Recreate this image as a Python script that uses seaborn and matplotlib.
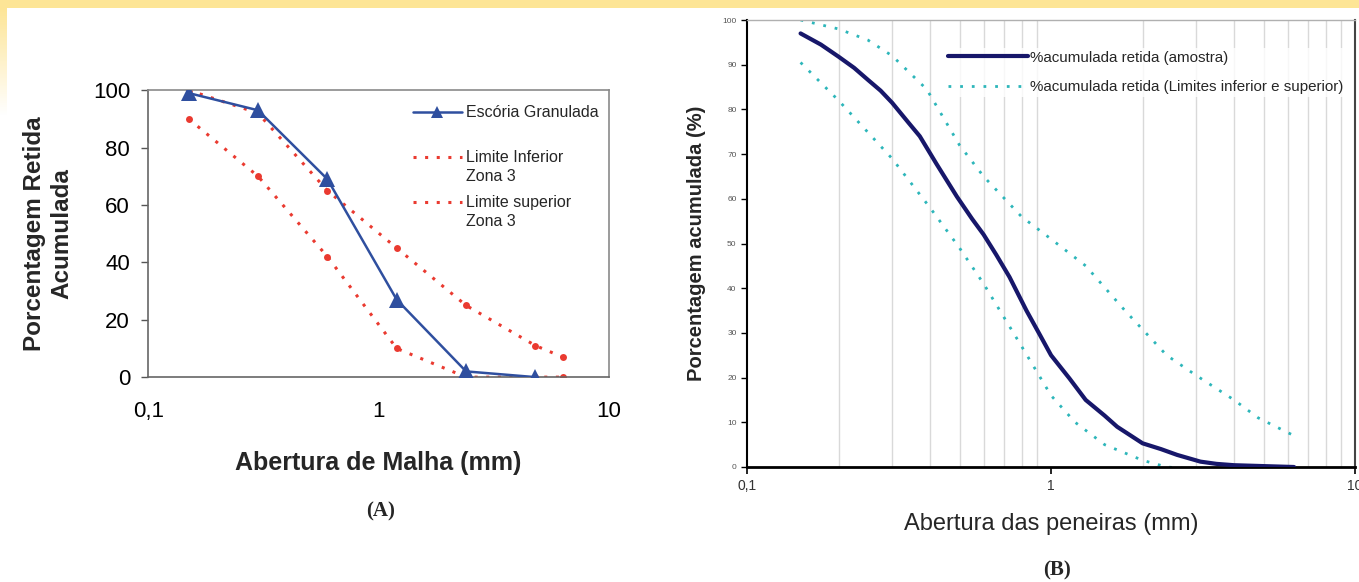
import numpy as np
import pandas as pd
import matplotlib.pyplot as plt
import seaborn as sns
from matplotlib.lines import Line2D
from matplotlib.patches import Rectangle
from matplotlib.ticker import FixedLocator, NullFormatter

# ---------------- data, panel A (NBR zona 3) ----------------
sieves_a = [0.15, 0.3, 0.6, 1.2, 2.4, 4.8]
escoria = [99, 93, 69, 27, 2, 0]
sieves_lim = [0.15, 0.3, 0.6, 1.2, 2.4, 4.8, 6.3]
lim_inf = [90, 70, 42, 10, 0, 0, 0]
lim_sup = [100, 92, 65, 45, 25, 11, 7]

# ---------------- data, panel B ----------------
abert_b = [0.15, 0.175, 0.2, 0.225, 0.25, 0.275, 0.3, 0.34, 0.37, 0.42, 0.49,
           0.55, 0.6, 0.66, 0.73, 0.83, 0.92, 1.0, 1.15, 1.3, 1.5, 1.65, 1.85,
           2.0, 2.3, 2.6, 3.1, 3.5, 4.0, 5.0, 6.3]
amostra_b = [97, 94.5, 91.8, 89.3, 86.6, 84.2, 81.5, 77, 74, 67.8, 60.5,
             55.5, 52, 47.5, 42.5, 35, 29.5, 25, 19.8, 15, 11.5, 9, 6.8,
             5.3, 4.0, 2.7, 1.2, 0.7, 0.4, 0.2, 0]
abert_sup_b = [0.15, 0.2, 0.25, 0.3, 0.39, 0.5, 0.6, 0.8, 1.0, 1.3, 1.75, 2.4,
               3.0, 4.0, 4.8, 6.3]
sup_b = [100, 98, 95.5, 92, 84.5, 72, 65, 56, 51, 45, 35, 25, 20.5, 15, 11, 7]
abert_inf_b = [0.15, 0.2, 0.3, 0.4, 0.5, 0.6, 0.8, 1.0, 1.2, 1.5, 2.0, 2.4,
               3.0, 4.8, 6.3]
inf_b = [90.5, 82, 69, 58, 49, 41, 27, 16, 10, 5, 1.5, 0, -0.5, 0, 0]

xticks = [0.1, 1, 10]
xticklabels = ["0,1", "1", "10"]

sns.set_style("white")
plt.rcParams['font.family'] = ['Liberation Sans', 'DejaVu Sans']

fig = plt.figure(figsize=(13.59, 5.82), dpi=100)
fig.patch.set_facecolor('white')

# yellow frame decoration
fig.patches.append(Rectangle((0, 0.987), 1, 0.013, transform=fig.transFigure,
                             facecolor='#fde596', edgecolor='none', zorder=0))
grad = fig.add_axes([0, 0.80, 0.0045, 0.187])
grad.imshow(np.linspace(1, 0, 50).reshape(-1, 1), aspect='auto',
            cmap=sns.blend_palette(['white', '#fde596'], as_cmap=True))
grad.axis('off')

red = '#ea3a30'
blue = '#2f4f9f'
red_dots = (0, (1, 2.8))

# ================= Panel A =================
ax1 = fig.add_axes([0.109, 0.352, 0.339, 0.493])
df_esc = pd.DataFrame({'x': sieves_a, 'y': escoria})
df_lim = pd.DataFrame({'x': sieves_lim, 'inf': lim_inf, 'sup': lim_sup})

sns.lineplot(data=df_lim, x='x', y='inf', ax=ax1, color=red, lw=2.2,
             linestyle=red_dots, marker='o', markersize=5,
             markeredgewidth=0, zorder=2)
sns.lineplot(data=df_lim, x='x', y='sup', ax=ax1, color=red, lw=2.2,
             linestyle=red_dots, marker='o', markersize=5,
             markeredgewidth=0, zorder=2)
sns.lineplot(data=df_esc, x='x', y='y', ax=ax1, color=blue, lw=1.8,
             marker='^', markersize=12, markeredgewidth=0, zorder=3)

ax1.set_xscale('log')
ax1.set_xlim(0.1, 10)
ax1.set_ylim(0, 100)
ax1.set_yticks([0, 20, 40, 60, 80, 100])
ax1.set_xticks(xticks)
ax1.set_xticklabels(xticklabels)
ax1.xaxis.set_minor_locator(FixedLocator([a * b for b in (0.1, 1) for a in range(2, 10)]))
ax1.xaxis.set_minor_formatter(NullFormatter())
ax1.tick_params(axis='both', labelsize=16, colors='black')
ax1.tick_params(axis='x', which='major', direction='inout', length=10, width=1,
                color='#555555', pad=12)
ax1.tick_params(axis='x', which='minor', direction='in', length=4, width=1,
                color='#555555')
ax1.tick_params(axis='y', direction='out', length=5, width=1, color='#555555',
                left=True, pad=8)
for s in ['left', 'bottom']:
    ax1.spines[s].set_color('#666666')
    ax1.spines[s].set_linewidth(1.2)
for s in ['top', 'right']:
    ax1.spines[s].set_color('#8a8a8a')
    ax1.spines[s].set_linewidth(1.2)
ax1.set_xlabel('Abertura de Malha (mm)', fontsize=18, fontweight='bold',
               labelpad=21)
ax1.set_ylabel('Porcentagem Retida\nAcumulada', fontsize=17.5,
               fontweight='bold', labelpad=14, linespacing=1.25)

# legend of panel A, laid out like the original
ax1.add_line(Line2D([0.575, 0.681], [0.923, 0.923], transform=ax1.transAxes,
                    color=blue, lw=1.8, clip_on=False))
ax1.add_line(Line2D([0.628], [0.923], transform=ax1.transAxes, color=blue,
                    marker='^', markersize=8, markeredgewidth=0, clip_on=False))
ax1.add_line(Line2D([0.575, 0.681], [0.767, 0.767], transform=ax1.transAxes,
                    color=red, lw=2.2, linestyle=red_dots, clip_on=False))
ax1.add_line(Line2D([0.575, 0.681], [0.610, 0.610], transform=ax1.transAxes,
                    color=red, lw=2.2, linestyle=red_dots, clip_on=False))
for ty, txt in [(0.923, 'Escória Granulada'), (0.767, 'Limite Inferior'),
                (0.700, 'Zona 3'), (0.610, 'Limite superior'), (0.544, 'Zona 3')]:
    ax1.text(0.69, ty, txt, transform=ax1.transAxes, fontsize=11.5,
             va='center', ha='left')

fig.text(0.28, 0.112, '(A)', family=['Liberation Serif', 'DejaVu Serif'],
         fontweight='bold', fontsize=15, ha='center')

# ================= Panel B =================
navy = '#17176a'
cyan = '#2db6ba'
cyan_dots = (0, (1, 3.2))
ax2 = fig.add_axes([0.5497, 0.1976, 0.4474, 0.768])
df_am = pd.DataFrame({'x': abert_b, 'y': amostra_b})
df_sup = pd.DataFrame({'x': abert_sup_b, 'y': sup_b})
df_inf = pd.DataFrame({'x': abert_inf_b, 'y': inf_b})

ax2.set_xscale('log')
for g in [a * b for b in (0.1, 1) for a in range(2, 10)]:
    ax2.axvline(g, color='#d9d9d9', lw=1, zorder=0)

sns.lineplot(data=df_sup, x='x', y='y', ax=ax2, color=cyan, lw=2,
             linestyle=cyan_dots, zorder=2)
sns.lineplot(data=df_inf, x='x', y='y', ax=ax2, color=cyan, lw=2,
             linestyle=cyan_dots, zorder=2)
sns.lineplot(data=df_am, x='x', y='y', ax=ax2, color=navy, lw=3, zorder=3)

ax2.set_xlim(0.1, 10)
ax2.set_ylim(0, 100)
ax2.set_yticks(range(0, 101, 10))
ax2.set_xticks(xticks)
ax2.set_xticklabels(xticklabels)
ax2.xaxis.set_minor_locator(FixedLocator([]))
ax2.tick_params(axis='y', labelsize=6, labelcolor='#555555', direction='out',
                length=4, width=1, color='black', left=True)
ax2.tick_params(axis='x', labelsize=10, labelcolor='#333333', direction='out',
                length=5, width=1.2, color='black', bottom=True, pad=4)
ax2.spines['left'].set_color('black')
ax2.spines['left'].set_linewidth(1.5)
ax2.spines['bottom'].set_color('black')
ax2.spines['bottom'].set_linewidth(2)
ax2.spines['right'].set_color('#444444')
ax2.spines['right'].set_linewidth(1.5)
ax2.spines['top'].set_color('#b0b0b0')
ax2.spines['top'].set_linewidth(1)
ax2.set_xlabel('Abertura das peneiras (mm)', fontsize=17, labelpad=14)
ax2.set_ylabel('Porcentagem acumulada (%)', fontsize=14.5, fontweight='bold',
               labelpad=12)

handles_b = [
    Line2D([], [], color=navy, lw=3),
    Line2D([], [], color=cyan, lw=2, linestyle=cyan_dots),
]
leg = ax2.legend(handles_b, ['%acumulada retida (amostra)',
                             '%acumulada retida (Limites inferior e superior)'],
                 loc='upper left', bbox_to_anchor=(0.313, 0.955), frameon=True,
                 fontsize=10.9, handlelength=5.3, labelspacing=1.0,
                 handletextpad=0.1, borderpad=0.2)
leg.get_frame().set_facecolor('white')
leg.get_frame().set_edgecolor('none')

fig.text(0.778, 0.012, '(B)', family=['Liberation Serif', 'DejaVu Serif'],
         fontweight='bold', fontsize=15, ha='center')

fig.savefig('out.png', dpi=100)
